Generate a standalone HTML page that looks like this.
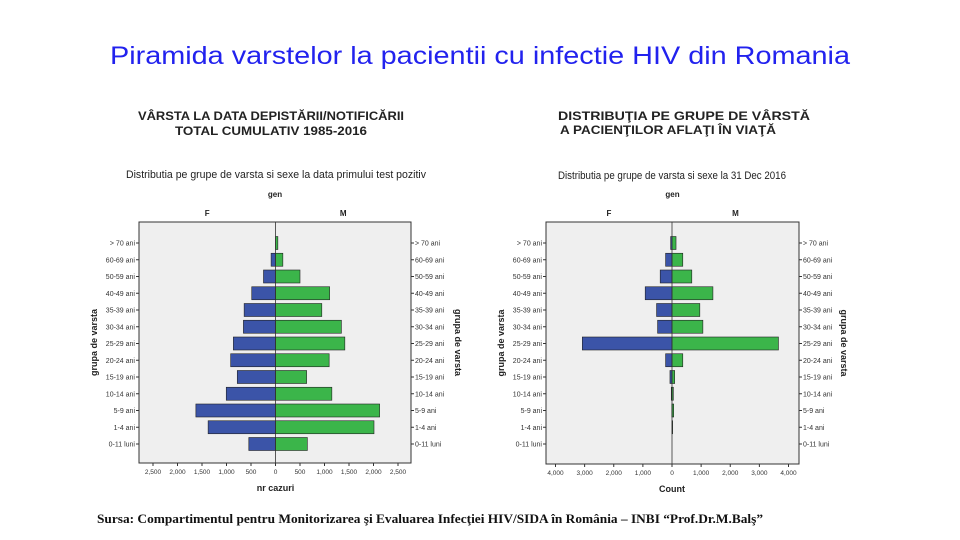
<!DOCTYPE html>
<html><head><meta charset="utf-8">
<style>
body{margin:0;width:960px;height:540px;background:#fff;overflow:hidden;font-family:"Liberation Sans",sans-serif;}
svg{position:absolute;left:0;top:0}
</style></head>
<body>
<svg id="s" width="960" height="540" xmlns="http://www.w3.org/2000/svg">
<text x="480" y="64" text-anchor="middle" font-size="25" fill="#2222ee" font-family="Liberation Sans, sans-serif" textLength="740" lengthAdjust="spacingAndGlyphs">Piramida varstelor la pacientii cu infectie HIV din Romania</text>
<text x="271" y="120" text-anchor="middle" font-size="12" font-weight="bold" fill="#222" textLength="266" lengthAdjust="spacingAndGlyphs">VÂRSTA LA DATA DEPISTĂRII/NOTIFICĂRII</text>
<text x="271" y="135" text-anchor="middle" font-size="12" font-weight="bold" fill="#222" textLength="192" lengthAdjust="spacingAndGlyphs">TOTAL CUMULATIV 1985-2016</text>
<text x="684" y="120" text-anchor="middle" font-size="12" font-weight="bold" fill="#222" textLength="252" lengthAdjust="spacingAndGlyphs">DISTRIBUŢIA PE GRUPE DE VÂRSTĂ</text>
<text x="668" y="134" text-anchor="middle" font-size="12" font-weight="bold" fill="#222" textLength="216" lengthAdjust="spacingAndGlyphs">A PACIENŢILOR AFLAŢI ÎN VIAŢĂ</text>
<text x="276" y="178" text-anchor="middle" font-size="11" fill="#222" textLength="300" lengthAdjust="spacingAndGlyphs">Distributia pe grupe de varsta si sexe la data primului test pozitiv</text>
<text x="672" y="179" text-anchor="middle" font-size="11" fill="#222" textLength="228" lengthAdjust="spacingAndGlyphs">Distributia pe grupe de varsta si sexe la 31 Dec 2016</text>
<text x="97" y="523" font-size="13" font-weight="bold" fill="#111" font-family="Liberation Serif, serif" textLength="666" lengthAdjust="spacingAndGlyphs">Sursa: Compartimentul pentru Monitorizarea şi Evaluarea Infecţiei HIV/SIDA în România – INBI “Prof.Dr.M.Balş”</text>
</svg>
<script>
const categories = ["> 70 ani","60-69 ani","50-59 ani","40-49 ani","35-39 ani","30-34 ani","25-29 ani","20-24 ani","15-19 ani","10-14 ani","5-9 ani","1-4 ani","0-11 luni"];
const leftF = [0,90,245,485,640,655,860,915,780,1005,1625,1375,545];
const leftM = [48,150,500,1105,945,1345,1415,1095,635,1150,2125,2010,650];
const leftTicks = [-2500,-2000,-1500,-1000,-500,0,500,1000,1500,2000,2500];
const leftTickLabels = ["2,500","2,000","1,500","1,000","500","0","500","1,000","1,500","2,000","2,500"];
const rightF = [46,220,405,920,530,495,3080,220,70,25,8,0,0];
const rightM = [138,370,680,1405,955,1060,3655,370,92,46,58,23,0];
const rightTicks = [-4000,-3000,-2000,-1000,0,1000,2000,3000,4000];
const rightTickLabels = ["4,000","3,000","2,000","1,000","0","1,000","2,000","3,000","4,000"];

const NS="http://www.w3.org/2000/svg";
const svg=document.getElementById('s');
function mk(tag,attrs,parent,text){const e=document.createElementNS(NS,tag);for(const k in attrs)e.setAttribute(k,attrs[k]);if(text!==undefined)e.textContent=text;(parent||svg).appendChild(e);return e;}

function drawChart(id,box,zeroX,pxPerUnit,fVals,mVals,ticks,tickLabels,xTitle,rOff){
  const g=mk('g',{});
  
  
  const x=v=>zeroX+v*pxPerUnit;
  const y0=243, step=16.75, bh=13;
  const yc=i=>y0+i*step;
  const bg=mk('rect',{x:box.x0,y:box.y0,width:box.x1-box.x0,height:box.y1-box.y0,fill:'#efefef',stroke:'#333','stroke-width':1},g);
  
  
  const t1=mk('text',{x:(box.x0+box.x1)/2,y:197,'text-anchor':'middle','font-size':8,'font-weight':'bold',fill:'#222'},g,'gen');
  
  
  const tf=mk('text',{x:box.x0+(zeroX-box.x0)/2,y:216,'text-anchor':'middle','font-size':8,'font-weight':'bold',fill:'#222'},g,'F');
  
  
  const tm=mk('text',{x:zeroX+(box.x1-zeroX)/2,y:216,'text-anchor':'middle','font-size':8,'font-weight':'bold',fill:'#222'},g,'M');
  
  
  categories.forEach((c,i)=>{
    const yy=yc(i);
    if(fVals[i]>0){const b=mk('rect',{x:x(-fVals[i]),y:yy-bh/2,width:fVals[i]*pxPerUnit,height:bh,fill:'#3b54a8',stroke:'#222','stroke-width':0.6},g);
      
      }
    if(mVals[i]>0){const b=mk('rect',{x:zeroX,y:yy-bh/2,width:mVals[i]*pxPerUnit,height:bh,fill:'#3bb54a',stroke:'#222','stroke-width':0.6},g);
      
      }
    mk('line',{x1:box.x0-3,x2:box.x0,y1:yy,y2:yy,stroke:'#333'},g);
    mk('line',{x1:box.x1,x2:box.x1+3,y1:yy,y2:yy,stroke:'#333'},g);
    const l=mk('text',{x:box.x0-4,y:yy+2.5,'text-anchor':'end','font-size':7,fill:'#333'},g,c);
    
    
    const r=mk('text',{x:box.x1+4,y:yy+2.5,'font-size':7,fill:'#333'},g,c);
    
    
  });
  mk('line',{x1:zeroX,x2:zeroX,y1:box.y0,y2:box.y1,stroke:'#333','stroke-width':0.8},g);
  ticks.forEach((t,i)=>{
    mk('line',{x1:x(t),x2:x(t),y1:box.y1,y2:box.y1+3,stroke:'#333'},g);
    const tl=mk('text',{x:x(t),y:box.y1+11,'text-anchor':'middle','font-size':6.5,fill:'#333'},g,tickLabels[i]);
    
    
  });
  const xt=mk('text',{x:zeroX,y:box.y1+28,'text-anchor':'middle','font-size':9,'font-weight':'bold',fill:'#222'},g,xTitle);
  
  
  const cy=(box.y0+box.y1)/2;
  const yl=mk('text',{x:box.x0-42,y:cy,'text-anchor':'middle','font-size':9,'font-weight':'bold',fill:'#222',transform:`rotate(-90 ${box.x0-42} ${cy})`},g,'grupa de varsta');
  
  
  const yr=mk('text',{x:box.x1+rOff,y:cy,'text-anchor':'middle','font-size':9,'font-weight':'bold',fill:'#222',transform:`rotate(90 ${box.x1+rOff} ${cy})`},g,'grupa de varsta');
  
  
}
drawChart('left',{x0:139,x1:411,y0:222,y1:463},275.5,245/5000,leftF,leftM,leftTicks,leftTickLabels,'nr cazuri',44);
drawChart('right',{x0:546,x1:799,y0:222,y1:464},672,116.5/4000,rightF,rightM,rightTicks,rightTickLabels,'Count',42);
</script>
</body></html>
